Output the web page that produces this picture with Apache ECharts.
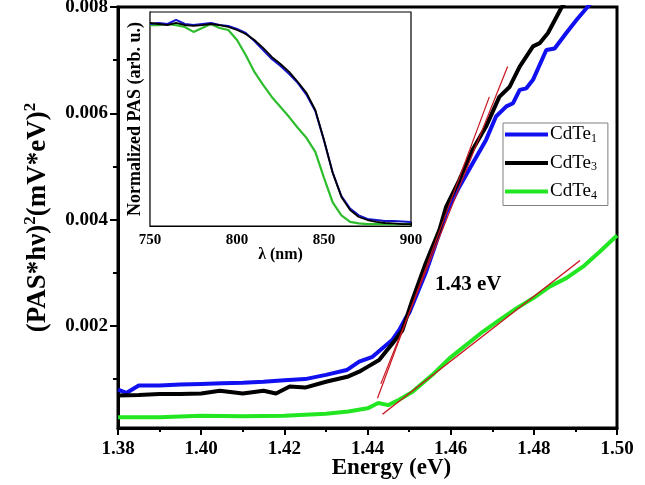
<!DOCTYPE html>
<html>
<head>
<meta charset="utf-8">
<script src="https://cdn.jsdelivr.net/npm/echarts@6/dist/echarts.min.js"></script>
<style>html,body{margin:0;padding:0;background:#fff}#c{width:645px;height:485px}</style>
</head>
<body>
<div id="c"></div>
<script>
// ---- Main chart data: Energy (eV) vs (PAS*hv)^2 ----
const energyCdTe1 = [1.380,1.382,1.385,1.390,1.395,1.400,1.405,1.410,1.415,1.420,1.425,1.430,1.435,1.438,1.4412,1.446,1.4476,1.4492,1.450,1.452,1.454,1.456,1.4589,1.4621,1.4653,1.4685,1.4709,1.4734,1.4750,1.4766,1.4782,1.4798,1.4830,1.4850,1.4878,1.4903,1.4927,1.4940];
const valueCdTe1  = [0.00080,0.00074,0.00088,0.00088,0.00090,0.00091,0.00092,0.00093,0.00095,0.00098,0.00100,0.00108,0.00117,0.00133,0.00142,0.00174,0.00192,0.00215,0.00224,0.00262,0.00300,0.00345,0.00412,0.00462,0.00506,0.00550,0.00594,0.00613,0.00619,0.00644,0.00647,0.00663,0.00719,0.00722,0.00751,0.00776,0.00798,0.00810];

const energyCdTe3 = [1.380,1.385,1.390,1.395,1.400,1.4045,1.410,1.415,1.418,1.4213,1.425,1.430,1.4354,1.438,1.440,1.4428,1.446,1.4484,1.4508,1.454,1.4573,1.4589,1.4621,1.4653,1.4685,1.4717,1.4742,1.4766,1.4798,1.4814,1.4834,1.4866,1.4880];
const valueCdTe3  = [0.00069,0.00070,0.00072,0.00072,0.00073,0.00078,0.00073,0.00078,0.00073,0.00086,0.00084,0.00095,0.00105,0.00114,0.00123,0.00136,0.00167,0.00192,0.00249,0.00318,0.00381,0.00424,0.00475,0.00532,0.00575,0.00631,0.00650,0.00688,0.00726,0.00732,0.00751,0.00798,0.00815];

const energyCdTe4 = [1.380,1.390,1.400,1.410,1.420,1.430,1.4354,1.440,1.4426,1.445,1.4476,1.4508,1.4556,1.4597,1.4637,1.4677,1.4717,1.4758,1.4798,1.4838,1.4878,1.4919,1.4959,1.5000];
const valueCdTe4  = [0.00028,0.00028,0.00031,0.00030,0.00031,0.00035,0.00039,0.00045,0.00055,0.00051,0.00061,0.00076,0.00108,0.00139,0.00164,0.00189,0.00211,0.00233,0.00252,0.00274,0.00290,0.00312,0.00340,0.00370];

// tangent (linear fit) lines
const tangentA = [[1.4424,0.00064],[1.4693,0.00631]];
const tangentB = [[1.4432,0.00091],[1.4737,0.00688]];
const tangentC = [[1.4436,0.00034],[1.4911,0.00323]];

const seriesNames = ['CdTe1','CdTe3','CdTe4'];
const xTicks = [1.38,1.40,1.42,1.44,1.46,1.48,1.50];
const yMajorTicks = [0.002,0.004,0.006,0.008];
const yMinorTicks = [0.001,0.003,0.005,0.007];
const gapLabel = '1.43 eV';

// ---- Inset data: normalized PAS vs wavelength ----
const lambdaNm = [750,755,760,765,770,775,780,785,790,795,800,805,810,815,820,825,830,835,840,845,850,855,860,865,870,875,880,885,890,895,900];
const insetCdTe1 = [0.944,0.949,0.944,0.963,0.944,0.939,0.944,0.949,0.939,0.935,0.921,0.902,0.864,0.822,0.780,0.748,0.710,0.668,0.612,0.537,0.400,0.250,0.140,0.082,0.050,0.033,0.028,0.023,0.023,0.021,0.019];
const insetCdTe3 = [0.949,0.944,0.939,0.949,0.939,0.935,0.939,0.944,0.939,0.930,0.916,0.897,0.869,0.832,0.790,0.757,0.720,0.673,0.621,0.542,0.402,0.248,0.136,0.075,0.042,0.028,0.019,0.014,0.012,0.009,0.009];
const insetCdTe4 = [0.939,0.939,0.944,0.939,0.930,0.907,0.925,0.944,0.925,0.916,0.869,0.799,0.720,0.659,0.603,0.556,0.509,0.458,0.411,0.346,0.225,0.110,0.050,0.019,0.012,0.009,0.009,0.009,0.009,0.009,0.009];

const zip = (a,b) => a.map((v,i) => [v,b[i]]);
const FONT = 'Liberation Serif';

const chart = echarts.init(document.getElementById('c'), null, {renderer:'canvas'});
chart.setOption({
  animation:false,
  backgroundColor:'#fff',
  textStyle:{fontFamily:FONT},
  grid:[
    {left:118, right:28, top:7, bottom:57, show:true, borderColor:'#000', borderWidth:3, backgroundColor:'transparent', containLabel:false, outerBoundsMode:'none'},
    {left:150, top:12, width:261, height:214, show:true, borderColor:'#000', borderWidth:1.2, backgroundColor:'#fff', containLabel:false, outerBoundsMode:'none', z:3}
  ],
  legend:{
    data:seriesNames,
    orient:'vertical', left:503, top:123,
    icon:'rect', itemWidth:43, itemHeight:4, itemGap:9,
    padding:[2,3,4,2],
    borderColor:'#808080', borderWidth:1, backgroundColor:'#fff',
    z:10,
    formatter: n => { const m = n.match(/^(\D+)(\d+)$/); return '{a|'+m[1]+'}{s|'+m[2]+'}{p|}'; },
    textStyle:{fontFamily:FONT, color:'#000', padding:[0,0,0,-3],
      rich:{a:{fontFamily:FONT,fontSize:19,lineHeight:20,color:'#000'},
            s:{fontFamily:FONT,fontSize:12,lineHeight:20,verticalAlign:'bottom',color:'#000'},
            p:{width:8,fontSize:12,lineHeight:20}}}
  },
  xAxis:[
    {type:'value', gridIndex:0, min:1.38, max:1.50, interval:0.02,
     axisLine:{show:true,onZero:false,lineStyle:{color:'#000',width:3}},
     axisTick:{show:true,inside:false,length:7,lineStyle:{color:'#000',width:2}},
     minorTick:{show:true,splitNumber:2,length:4,lineStyle:{color:'#000',width:2}},
     splitLine:{show:false},
     axisLabel:{margin:12,fontFamily:FONT,fontSize:19,fontWeight:'bold',color:'#000',formatter:v=>v.toFixed(2)},
     name:'Energy (eV)', nameLocation:'middle', nameGap:29, nameMoveOverlap:false,
     nameTextStyle:{fontFamily:FONT,fontSize:23,fontWeight:'bold',color:'#000',padding:[0,0,0,48]}},
    {type:'value', gridIndex:1, min:750, max:900, interval:50,
     axisLine:{show:true,onZero:false,lineStyle:{color:'#000',width:1.2}},
     axisTick:{show:true,inside:true,length:4,lineStyle:{color:'#000',width:1}},
     minorTick:{show:true,splitNumber:2,length:3,lineStyle:{color:'#000',width:1}},
     splitLine:{show:false},
     axisLabel:{margin:7,fontFamily:FONT,fontSize:15,fontWeight:'bold',color:'#000'},
     name:'λ (nm)', nameLocation:'middle', nameGap:21, nameMoveOverlap:false,
     nameTextStyle:{fontFamily:FONT,fontSize:16,fontWeight:'bold',color:'#000'}}
  ],
  yAxis:[
    {type:'value', gridIndex:0, position:'left', min:0.00008, max:0.008,
     axisLine:{show:true,onZero:false,lineStyle:{color:'#000',width:3}},
     axisTick:{show:true,inside:false,length:8,customValues:yMajorTicks,lineStyle:{color:'#000',width:2}},
     splitLine:{show:false},
     axisLabel:{margin:10,customValues:yMajorTicks,fontFamily:FONT,fontSize:19,fontWeight:'bold',color:'#000',formatter:v=>v.toFixed(3)},
     name:'{a|(PAS*hν)}{s|2}{a|(mV*eV)}{s|2}', nameLocation:'middle', nameGap:64, nameRotate:90, nameMoveOverlap:false,
     nameTextStyle:{rich:{a:{fontFamily:FONT,fontSize:27,fontWeight:'bold',color:'#000',lineHeight:32},
                          s:{fontFamily:FONT,fontSize:17,fontWeight:'bold',color:'#000',lineHeight:32,verticalAlign:'top'}}}},
    {type:'value', gridIndex:0, position:'left', min:0.00008, max:0.008,
     axisLine:{show:false},
     axisTick:{show:true,inside:false,length:5,customValues:yMinorTicks,lineStyle:{color:'#000',width:2}},
     splitLine:{show:false},
     axisLabel:{show:false}},
    {type:'value', gridIndex:1, min:0, max:1,
     axisLine:{show:true,onZero:false,lineStyle:{color:'#000',width:1.2}},
     axisTick:{show:false}, splitLine:{show:false}, axisLabel:{show:false},
     name:'Normalized PAS (arb. u.)', nameLocation:'middle', nameGap:6, nameRotate:90, nameMoveOverlap:false,
     nameTextStyle:{fontFamily:FONT,fontSize:18,fontWeight:'bold',color:'#000'}}
  ],
  series:[
    {name:'CdTe4', type:'line', xAxisIndex:0, yAxisIndex:0, data:zip(energyCdTe4,valueCdTe4), showSymbol:false, symbol:'none', color:'#22e622', lineStyle:{width:4,color:'#22e622'}, z:2},
    {name:'CdTe3', type:'line', xAxisIndex:0, yAxisIndex:0, data:zip(energyCdTe3,valueCdTe3), showSymbol:false, symbol:'none', color:'#000', lineStyle:{width:4,color:'#000'}, z:3},
    {name:'CdTe1', type:'line', xAxisIndex:0, yAxisIndex:0, data:zip(energyCdTe1,valueCdTe1), showSymbol:false, symbol:'none', color:'#1010f0', lineStyle:{width:4,color:'#1010f0'}, z:2},
    {name:'fitA', type:'line', xAxisIndex:0, yAxisIndex:0, data:tangentA, symbol:'none', lineStyle:{width:1.2,color:'#c8141e'}, z:4},
    {name:'fitB', type:'line', xAxisIndex:0, yAxisIndex:0, data:tangentB, symbol:'none', lineStyle:{width:1.2,color:'#c8141e'}, z:4},
    {name:'fitC', type:'line', xAxisIndex:0, yAxisIndex:0, data:tangentC, symbol:'none', lineStyle:{width:1.4,color:'#c8141e'}, z:4},
    {name:'inset4', type:'line', xAxisIndex:1, yAxisIndex:2, data:zip(lambdaNm,insetCdTe4), symbol:'none', lineStyle:{width:2.2,color:'#2dbd2d'}, z:5},
    {name:'inset1', type:'line', xAxisIndex:1, yAxisIndex:2, data:zip(lambdaNm,insetCdTe1), symbol:'none', lineStyle:{width:2,color:'#1414c8'}, z:5},
    {name:'inset3', type:'line', xAxisIndex:1, yAxisIndex:2, data:zip(lambdaNm,insetCdTe3), symbol:'none', lineStyle:{width:1.8,color:'#000'}, z:6}
  ],
  graphic:[
    {type:'text', left:435, top:274, z:10,
     style:{text:gapLabel, fontFamily:FONT, fontSize:21, fontWeight:'bold', fill:'#000'}}
  ]
});
</script>
</body>
</html>
